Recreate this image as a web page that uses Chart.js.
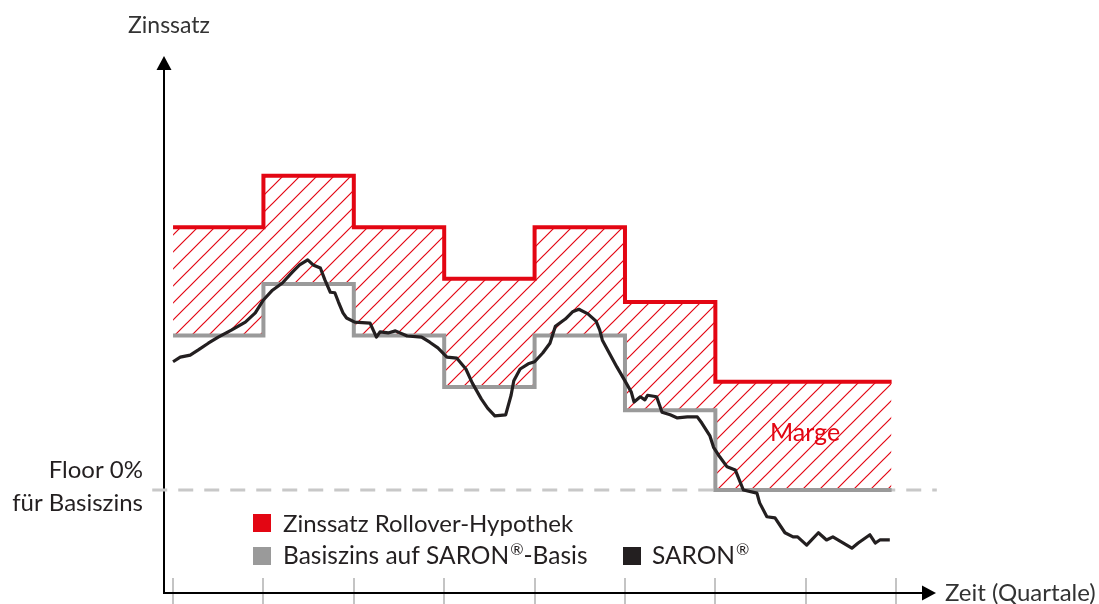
<!DOCTYPE html>
<html lang="de">
<head>
<meta charset="utf-8">
<title>Rollover-Hypothek</title>
<script src="https://cdn.jsdelivr.net/npm/chart.js@4.4.1/dist/chart.umd.min.js"></script>
<style>
html, body { margin: 0; padding: 0; background: #fff; }
#wrap { width: 1099px; height: 604px; }
</style>
</head>
<body>
<div id="wrap"><canvas id="myChart" width="1099" height="604"></canvas></div>
<script>
// x = Zeit in Quartalen, y = Zinssatz in %
const quarterTicks = [0, 1, 2, 3, 4, 5, 6, 7, 8];
const stepX = [0, 1, 2, 3, 4, 5, 6, 7, 7.95];
const rolloverRate = [5.1, 6.1, 5.1, 4.1, 5.1, 3.65, 2.1, 2.1, 2.1];
const baseRate = [3.0, 4.0, 3.0, 2.0, 3.0, 1.55, 0, 0, 0];
const floorX = [-0.23, 8.45];
const floorY = [0, 0];

const saronX = [0.00, 0.08, 0.19, 0.28, 0.39, 0.50, 0.65, 0.80, 0.91, 1.00,
  1.10, 1.21, 1.32, 1.40, 1.49, 1.55, 1.63, 1.68, 1.74, 1.79,
  1.83, 1.88, 1.92, 2.01, 2.18, 2.25, 2.29, 2.38, 2.46, 2.59,
  2.75, 2.84, 2.93, 3.03, 3.14, 3.24, 3.31, 3.41, 3.48, 3.56,
  3.68, 3.74, 3.77, 3.84, 3.93, 4.00, 4.09, 4.17, 4.23, 4.34,
  4.42, 4.49, 4.59, 4.68, 4.72, 4.75, 4.82, 4.91, 5.00, 5.07,
  5.10, 5.17, 5.22, 5.25, 5.35, 5.41, 5.50, 5.58, 5.69, 5.80,
  5.85, 5.94, 5.98, 6.05, 6.13, 6.22, 6.31, 6.46, 6.49, 6.57,
  6.66, 6.77, 6.86, 6.91, 7.01, 7.14, 7.23, 7.30, 7.51, 7.58,
  7.71, 7.77, 7.82, 7.93];
const saronY = [2.49, 2.58, 2.62, 2.72, 2.85, 2.97, 3.11, 3.26, 3.44, 3.69,
  3.88, 4.02, 4.23, 4.37, 4.47, 4.37, 4.31, 4.08, 3.84, 3.83,
  3.65, 3.44, 3.34, 3.26, 3.24, 2.97, 3.07, 3.05, 3.09, 2.99,
  2.97, 2.87, 2.76, 2.58, 2.56, 2.35, 2.08, 1.77, 1.59, 1.44,
  1.46, 1.84, 2.12, 2.35, 2.45, 2.49, 2.66, 2.85, 3.18, 3.32,
  3.46, 3.51, 3.42, 3.28, 3.11, 2.91, 2.68, 2.39, 2.12, 1.90,
  1.71, 1.81, 1.75, 1.84, 1.81, 1.51, 1.46, 1.40, 1.42, 1.42,
  1.30, 1.05, 0.83, 0.64, 0.45, 0.39, 0.00, -0.06, -0.25, -0.52,
  -0.54, -0.83, -0.91, -0.91, -1.07, -0.83, -0.97, -0.91, -1.13, -1.03,
  -0.87, -1.03, -0.97, -0.97];

const legendLabels = ['Zinssatz Rollover-Hypothek', 'Basiszins auf SARON', 'SARON'];

const RED = '#e30613';
const GREY = '#9a9a9a';
const DARK = '#231f20';
const FONT = "Lato, 'Noto Sans', sans-serif";

function toPoints(xs, ys) {
    return xs.map((x, i) => ({ x: x, y: ys[i] }));
}

canvas = document.getElementById('myChart');
ctx = canvas.getContext('2d');

function makeHatch(color) {
    const size = 17;
    const c = document.createElement('canvas');
    c.width = size; c.height = size;
    const g = c.getContext('2d');
    g.strokeStyle = color;
    g.lineWidth = 1.2;
    g.beginPath();
    g.moveTo(-3, size + 3); g.lineTo(size + 3, -3);
    g.moveTo(-3, 3); g.lineTo(3, -3);
    g.moveTo(size - 3, size + 3); g.lineTo(size + 3, size - 3);
    g.stroke();
    return ctx.createPattern(c, 'repeat');
}

// text with a small raised ® after it
function drawReg(g, text, x, y, size) {
    g.font = size + 'px ' + FONT;
    g.fillText(text, x, y);
    const w = g.measureText(text).width;
    g.font = Math.round(size * 0.65) + 'px ' + FONT;
    g.fillText('\u00AE', x + w + 1, y - size * 0.36);
    return w + 1 + g.measureText('\u00AE').width;
}

const axesPlugin = {
    id: 'axesPlugin',
    beforeDatasetsDraw(chart) {
        const g = chart.ctx;
        const a = chart.chartArea;
        const xs = chart.scales.x;
        g.save();
        // quarter ticks
        g.strokeStyle = '#c4c4c4';
        g.lineWidth = 2;
        quarterTicks.forEach(q => {
            const px = Math.round(xs.getPixelForValue(q));
            g.beginPath();
            g.moveTo(px, a.bottom - 15);
            g.lineTo(px, a.bottom + 11);
            g.stroke();
        });
        // axes
        g.strokeStyle = '#000';
        g.fillStyle = '#000';
        g.lineWidth = 2;
        g.beginPath();
        g.moveTo(a.left, a.top + 12);
        g.lineTo(a.left, a.bottom);
        g.lineTo(a.right - 12, a.bottom);
        g.stroke();
        g.beginPath();
        g.moveTo(a.left, a.top - 1);
        g.lineTo(a.left - 7.5, a.top + 13);
        g.lineTo(a.left + 7.5, a.top + 13);
        g.closePath();
        g.fill();
        g.beginPath();
        g.moveTo(a.right + 1, a.bottom);
        g.lineTo(a.right - 13, a.bottom - 7.5);
        g.lineTo(a.right - 13, a.bottom + 7.5);
        g.closePath();
        g.fill();
        g.restore();
    },
    afterDatasetsDraw(chart) {
        const g = chart.ctx;
        g.save();
        g.textBaseline = 'alphabetic';
        g.fillStyle = '#333';
        g.textAlign = 'left';
        g.font = '23px ' + FONT;
        g.fillText('Zinssatz', 128, 33);
        g.font = '24px ' + FONT;
        g.fillText('Zeit (Quartale)', 945, 601);

        g.fillStyle = DARK;
        g.textAlign = 'right';
        g.font = '24px ' + FONT;
        g.fillText('Floor 0%', 143, 478);
        g.fillText('für Basiszins', 143, 511);

        g.textAlign = 'left';
        g.fillStyle = RED;
        g.font = '25px ' + FONT;
        g.fillText('Marge', 770, 441);

        // legend
        g.fillStyle = RED;
        g.fillRect(253, 514, 18, 18);
        g.fillStyle = GREY;
        g.fillRect(253, 547, 18, 18);
        g.fillStyle = DARK;
        g.fillRect(623, 547, 18, 18);

        g.fillStyle = DARK;
        g.font = '24px ' + FONT;
        g.fillText(legendLabels[0], 283, 532);
        const w = drawReg(g, legendLabels[1], 283, 564, 24.5);
        g.font = '24.5px ' + FONT;
        g.fillText('-Basis', 283 + w, 564);
        drawReg(g, legendLabels[2], 652, 564, 24.5);
        g.restore();
    }
};

barChart = new Chart(ctx, {
    type: 'line',
    data: {
        datasets: [
            {
                label: 'SARON',
                data: toPoints(saronX, saronY),
                borderColor: DARK,
                borderWidth: 3.2,
                borderJoinStyle: 'round',
                pointRadius: 0,
                tension: 0,
                fill: false,
                order: 0
            },
            {
                label: 'Zinssatz Rollover-Hypothek',
                data: toPoints(stepX, rolloverRate),
                borderColor: RED,
                borderWidth: 4,
                borderJoinStyle: 'miter',
                borderCapStyle: 'butt',
                stepped: 'before',
                pointRadius: 0,
                fill: { target: 2, above: makeHatch(RED), below: makeHatch(RED) },
                order: 2
            },
            {
                label: 'Basiszins auf SARON-Basis',
                data: toPoints(stepX, baseRate),
                borderColor: GREY,
                borderWidth: 4,
                borderJoinStyle: 'miter',
                borderCapStyle: 'butt',
                stepped: 'before',
                pointRadius: 0,
                fill: false,
                order: 1
            },
            {
                label: 'Floor',
                data: toPoints(floorX, floorY),
                borderColor: '#c8c8c8',
                borderWidth: 3,
                borderDash: [15, 11],
                pointRadius: 0,
                fill: false,
                clip: false,
                order: 3
            }
        ]
    },
    options: {
        responsive: false,
        animation: false,
        devicePixelRatio: 1,
        layout: { padding: { left: 164, right: 164, top: 57, bottom: 11 } },
        scales: {
            x: { type: 'linear', min: -0.1, max: 8.43, display: false },
            y: { type: 'linear', min: -2, max: 8.408, display: false }
        },
        plugins: {
            legend: { display: false },
            tooltip: { enabled: false }
        }
    },
    plugins: [axesPlugin]
});
</script>
</body>
</html>
